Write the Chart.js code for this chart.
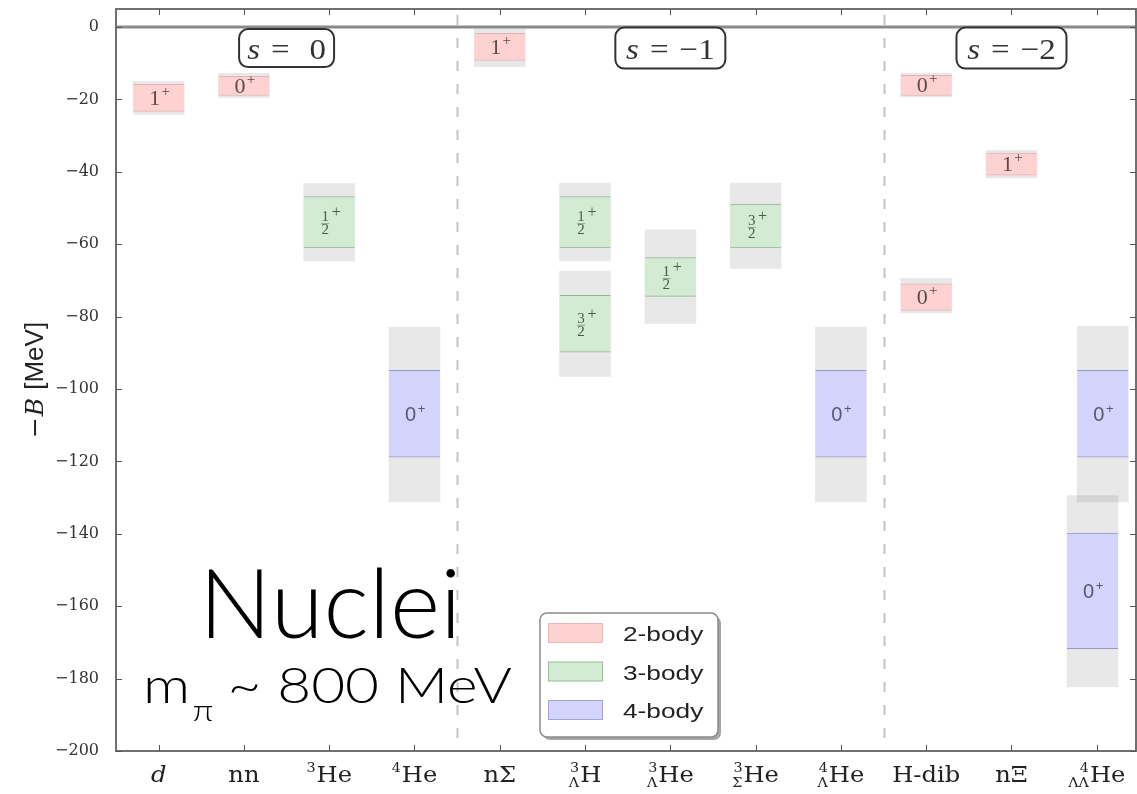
<!DOCTYPE html>
<html>
<head>
<meta charset="utf-8">
<title>Binding energies of light nuclei and hypernuclei</title>
<script src="https://cdn.jsdelivr.net/npm/chart.js@4.4.1/dist/chart.umd.min.js"></script>
<style>
  html, body { margin: 0; padding: 0; background: #ffffff; }
  #wrap { width: 1137px; height: 794px; position: relative; }
</style>
</head>
<body>
<div id="wrap"><canvas id="levels" width="1137" height="794"></canvas></div>
<script>
// Species along the horizontal axis (index = category position)
const categories = ['d', 'nn', '3He', '4He', 'nΣ', '3ΛH', '3ΛHe', '3ΣHe', '4ΛHe', 'H-dib', 'nΞ', 'ΛΛ4He'];
// Tick label pieces: main symbol, left superscript (mass number), left subscript (hyperon content)
const tickMain = ['d', 'nn', 'He', 'He', 'nΣ', 'H', 'He', 'He', 'He', 'H-dib', 'nΞ', 'He'];
const tickSup  = ['',  '',   '3',  '4',  '',   '3', '3',  '3',  '4',  '',      '',   '4'];
const tickSub  = ['',  '',   '',   '',   '',   'Λ', 'Λ',  'Σ',  'Λ',  '',      '',   'ΛΛ'];

// Energy levels -B [MeV]: [category, stat low, stat high, total low, total high, J^P]
const twoBody = [
  [0,  -23.3, -15.8, -24.1, -15.0, '1+'],
  [1,  -18.9, -13.6, -19.4, -12.8, '0+'],
  [4,   -9.2,  -1.7, -10.9,  -0.4, '1+'],
  [9,  -18.9, -13.3, -19.3, -12.7, '0+'],
  [9,  -78.3, -70.9, -79.0, -69.5, '0+'],
  [10, -40.9, -34.8, -41.7, -34.1, '1+']
];
const threeBody = [
  [2, -61.0, -46.8, -64.7, -43.2, '1/2+'],
  [5, -61.0, -46.8, -64.6, -43.1, '1/2+'],
  [5, -89.8, -74.1, -96.5, -67.4, '3/2+'],
  [6, -74.4, -63.7, -81.9, -56.0, '1/2+'],
  [7, -61.0, -48.9, -66.7, -43.1, '3/2+']
];
const fourBody = [
  [3,  -118.8,  -94.8, -131.2,  -82.9, '0+'],
  [8,  -118.8,  -94.8, -131.2,  -82.9, '0+'],
  [11, -118.8,  -94.8, -131.2,  -82.7, '0+'],
  [11, -171.7, -139.8, -182.3, -129.4, '0+']
];

// Strangeness sectors
const sectorNames = ['0', '−1', '−2'];
const sectorMid = [1.5, 6, 10];
const sectorEdges = [3.5, 8.5];
const yTickStep = 20;

// Two nearly degenerate levels of the same species are nudged apart sideways
function nudge(rows) {
  const seen = {};
  return rows.map(r => {
    const k = r[0];
    const n = rows.filter(q => q[0] === k).length;
    seen[k] = (seen[k] || 0) + 1;
    if (n > 1 && k === 11) return seen[k] === 1 ? 0.07 : -0.05;
    return 0;
  });
}

function statPoints(rows) {
  const off = nudge(rows);
  return rows.map((r, i) => ({ x: r[0] + off[i], y: [r[1], r[2]] }));
}
function totalPoints(rows) {
  const off = nudge(rows);
  return rows.map((r, i) => ({ x: r[0] + off[i], y: [r[3], r[4]] }));
}

const BOX_W = 51;
const colors = {
  two:   { fill: '#ffd2d2', edge: '#e3b3b3' },
  three: { fill: '#d3ead3', edge: '#93b593' },
  four:  { fill: '#d3d3fb', edge: '#9797c6' }
};

const datasets = [
  {
    label: 'uncertainty',
    data: totalPoints(twoBody).concat(totalPoints(threeBody), totalPoints(fourBody)),
    backgroundColor: 'rgba(0,0,0,0.09)',
    borderWidth: 0,
    barThickness: BOX_W,
    order: 5
  },
  {
    label: '2-body', rows: twoBody, kind: 'two',
    data: statPoints(twoBody),
    backgroundColor: colors.two.fill, borderColor: colors.two.edge,
    borderWidth: { top: 1, bottom: 1, left: 0, right: 0 }, borderSkipped: false,
    barThickness: BOX_W, order: 1
  },
  {
    label: '3-body', rows: threeBody, kind: 'three',
    data: statPoints(threeBody),
    backgroundColor: colors.three.fill, borderColor: colors.three.edge,
    borderWidth: { top: 1, bottom: 1, left: 0, right: 0 }, borderSkipped: false,
    barThickness: BOX_W, order: 1
  },
  {
    label: '4-body', rows: fourBody, kind: 'four',
    data: statPoints(fourBody),
    backgroundColor: colors.four.fill, borderColor: colors.four.edge,
    borderWidth: { top: 1, bottom: 1, left: 0, right: 0 }, borderSkipped: false,
    barThickness: BOX_W, order: 1
  }
];

const SERIF = '"DejaVu Serif", "Liberation Serif", serif';
const TIMES = '"Liberation Serif", "DejaVu Serif", serif';
const SANS = '"Liberation Sans", Arimo, Helvetica, Arial, sans-serif';
const LIGHT = 'Lato, Inter, Roboto, "Open Sans", sans-serif';

// draw a row of text pieces, stretched horizontally by sx
function drawPieces(ctx, pieces, x, y, align, sx) {
  ctx.save();
  let total = 0;
  pieces.forEach(p => { ctx.font = p.font; p.w = ctx.measureText(p.t).width; total += p.w + (p.gap || 0); });
  let start = align === 'center' ? x - total * sx / 2 : (align === 'right' ? x - total * sx : x);
  ctx.translate(start, y);
  ctx.scale(sx, 1);
  ctx.textAlign = 'left';
  ctx.textBaseline = 'alphabetic';
  let cx = 0;
  pieces.forEach(p => {
    ctx.font = p.font;
    ctx.fillStyle = p.color || '#222';
    ctx.fillText(p.t, cx + (p.gap || 0), p.dy || 0);
    cx += p.w + (p.gap || 0);
  });
  ctx.restore();
}

function drawJP(ctx, jp, cx, cy, kind) {
  ctx.save();
  ctx.textBaseline = 'alphabetic';
  ctx.textAlign = 'center';
  if (jp.indexOf('/') >= 0) {
    const [num, rest] = jp.split('/');
    const den = rest.replace('+', '');
    ctx.fillStyle = '#4c5a4c';
    ctx.font = '15px ' + TIMES;
    ctx.fillText(num, cx - 4, cy - 1);
    ctx.fillText(den, cx - 4, cy + 12);
    ctx.fillStyle = 'rgba(80,100,80,0.55)';
    ctx.fillRect(cx - 8, cy + 1, 8, 1);
    ctx.fillStyle = '#4c5a4c';
    ctx.font = '16px ' + TIMES;
    ctx.fillText('+', cx + 7, cy - 5);
  } else {
    const d = jp.replace('+', '');
    if (kind === 'four') {
      ctx.fillStyle = '#585870';
      ctx.font = '20px ' + SANS;
      ctx.fillText(d, cx - 4, cy + 7);
      ctx.font = '13px ' + SANS;
      ctx.fillText('+', cx + 7, cy - 1);
    } else {
      ctx.fillStyle = '#5a4a4a';
      ctx.font = '22px ' + TIMES;
      ctx.fillText(d, cx - 4, cy + 7);
      ctx.font = '15px ' + TIMES;
      ctx.fillText('+', cx + 7, cy - 2);
    }
  }
  ctx.restore();
}

const decor = {
  id: 'levelDecor',
  beforeDatasetsDraw(chart) {
    const { ctx, chartArea: a, scales: { x } } = chart;
    ctx.save();
    ctx.strokeStyle = '#c4c4c4';
    ctx.lineWidth = 2;
    ctx.setLineDash([10, 13]);
    sectorEdges.forEach(v => {
      const px = Math.round(x.getPixelForValue(v)) + 0.5;
      ctx.beginPath();
      ctx.moveTo(px, a.top + 6);
      ctx.lineTo(px, a.bottom);
      ctx.stroke();
    });
    ctx.restore();
  },
  afterDatasetsDraw(chart) {
    const { ctx } = chart;
    chart.data.datasets.forEach((ds, di) => {
      if (!ds.rows) return;
      const meta = chart.getDatasetMeta(di);
      meta.data.forEach((el, i) => {
        const cy = (el.y + el.base) / 2;
        drawJP(ctx, ds.rows[i][5], el.x, cy, ds.kind);
      });
    });
  },
  afterDraw(chart) {
    const { ctx, chartArea: a, scales: { x, y } } = chart;
    ctx.save();

    // zero-energy line
    const y0 = y.getPixelForValue(0);
    ctx.strokeStyle = '#8a8a8a';
    ctx.lineWidth = 3;
    ctx.beginPath();
    ctx.moveTo(a.left, y0);
    ctx.lineTo(a.right, y0);
    ctx.stroke();

    // frame
    ctx.strokeStyle = '#707070';
    ctx.lineWidth = 2;
    ctx.strokeRect(a.left, a.top, a.right - a.left, a.bottom - a.top);

    // inward tick marks
    ctx.strokeStyle = '#555';
    ctx.lineWidth = 1;
    ctx.beginPath();
    for (let v = y.min; v <= 0; v += yTickStep) {
      const py = Math.round(y.getPixelForValue(v)) + 0.5;
      ctx.moveTo(a.left, py); ctx.lineTo(a.left + 6, py);
      ctx.moveTo(a.right, py); ctx.lineTo(a.right - 6, py);
    }
    categories.forEach((c, i) => {
      const px = Math.round(x.getPixelForValue(i)) + 0.5;
      ctx.moveTo(px, a.top); ctx.lineTo(px, a.top + 6);
      ctx.moveTo(px, a.bottom); ctx.lineTo(px, a.bottom - 6);
    });
    ctx.stroke();

    // category labels with nuclear pre-scripts
    const sx = 1.1;
    const base = a.bottom + 31;
    categories.forEach((c, i) => {
      const cx = x.getPixelForValue(i);
      const mainFont = (tickMain[i] === 'd' ? 'italic ' : '') + '22px ' + SERIF;
      const scrFont = '13px ' + SERIF;
      ctx.font = mainFont;
      const mw = ctx.measureText(tickMain[i]).width * sx;
      ctx.font = scrFont;
      const supW = tickSup[i] ? ctx.measureText(tickSup[i]).width * sx : 0;
      const subW = tickSub[i] ? ctx.measureText(tickSub[i]).width * sx : 0;
      const pw = Math.max(supW, subW) + (supW || subW ? 1 : 0);
      const start = cx - (pw + mw) / 2;
      if (tickSup[i]) drawPieces(ctx, [{ t: tickSup[i], font: scrFont, color: '#222' }], start + pw - 1, base - 10, 'right', sx);
      if (tickSub[i]) drawPieces(ctx, [{ t: tickSub[i], font: scrFont, color: '#222' }], start + pw - 1, base + 5, 'right', sx);
      drawPieces(ctx, [{ t: tickMain[i], font: mainFont, color: '#222' }], start + pw, base, 'left', sx);
    });

    // axis title
    ctx.save();
    ctx.translate(a.left - 82, (a.top + a.bottom) / 2);
    ctx.rotate(-Math.PI / 2);
    drawPieces(ctx, [
      { t: '−', font: '25px ' + SERIF, color: '#222' },
      { t: 'B', font: 'italic 25px ' + SERIF, color: '#222', gap: 1 },
      { t: '[MeV]', font: '26px ' + SANS, color: '#222', gap: 8 }
    ], 0, 9, 'center', 1);
    ctx.restore();

    // strangeness sector tags
    sectorNames.forEach((s, k) => {
      const cx = x.getPixelForValue(sectorMid[k]);
      const cy = y.getPixelForValue(0) + 21;
      const w = s.length > 1 ? 110 : 95;
      const h = s.length > 1 ? 41 : 38;
      ctx.beginPath();
      ctx.roundRect(cx - w / 2, cy - h / 2, w, h, 9);
      ctx.fillStyle = '#fff';
      ctx.fill();
      ctx.strokeStyle = '#333';
      ctx.lineWidth = 2;
      ctx.stroke();
      drawPieces(ctx, [
        { t: 's', font: 'italic 30px ' + TIMES, color: '#333' },
        { t: '=', font: '30px ' + TIMES, color: '#333', gap: 10 },
        { t: s, font: '30px ' + TIMES, color: '#333', gap: s.length > 1 ? 10 : 18 }
      ], cx, cy + 11, 'center', 1.1);
    });

    // legend
    const lx = 540, ly = 613, lw = 178, lh = 124;
    ctx.beginPath();
    ctx.roundRect(lx + 3, ly + 3, lw, lh, 7);
    ctx.fillStyle = 'rgba(0,0,0,0.35)';
    ctx.fill();
    ctx.beginPath();
    ctx.roundRect(lx, ly, lw, lh, 7);
    ctx.fillStyle = '#fff';
    ctx.fill();
    ctx.strokeStyle = '#8c8c8c';
    ctx.lineWidth = 1.5;
    ctx.stroke();
    chart.data.datasets.filter(d => d.rows).forEach((ds, k) => {
      const ry = ly + 20 + k * 38.5;
      ctx.fillStyle = ds.backgroundColor;
      ctx.fillRect(lx + 8, ry - 10, 55, 20);
      ctx.strokeStyle = ds.borderColor;
      ctx.lineWidth = 0.8;
      ctx.strokeRect(lx + 8.5, ry - 9.5, 54, 19);
      drawPieces(ctx, [{ t: ds.label, font: '21px ' + SANS, color: '#222' }], lx + 83, ry + 8, 'left', 1.25);
    });

    // headline annotation
    drawPieces(ctx, [{ t: 'Nuclei', font: '300 96px ' + LIGHT, color: '#000' }], 199, 638, 'left', 1);
    drawPieces(ctx, [
      { t: 'm', font: '300 50px ' + LIGHT, color: '#000' },
      { t: 'π', font: '300 30px ' + LIGHT, color: '#000', dy: 18, gap: 2 },
      { t: '~ 800 MeV', font: '300 50px ' + LIGHT, color: '#000', gap: 12 }
    ], 143, 703, 'left', 1.17);

    ctx.restore();
  }
};

new Chart(document.getElementById('levels'), {
  type: 'bar',
  data: { datasets },
  options: {
    responsive: false,
    animation: false,
    events: [],
    layout: { padding: { top: 9, right: 1, bottom: 43, left: 0 } },
    datasets: { bar: { grouped: false } },
    scales: {
      x: { type: 'linear', min: -0.5, max: 11.46, offset: false, display: false },
      y: {
        min: -200, max: 5,
        grid: { display: false },
        border: { display: false },
        ticks: {
          stepSize: yTickStep,
          includeBounds: false,
          padding: 9,
          color: '#333',
          font: { family: '"DejaVu Serif", serif', size: 16 },
          callback: v => String(v).replace('-', '−')
        },
        afterFit(scale) {
          scale.width = 116;
          scale.paddingTop = 0;
          scale.paddingBottom = 0;
        }
      }
    },
    plugins: { legend: { display: false }, tooltip: { enabled: false } }
  },
  plugins: [decor]
});
</script>
</body>
</html>
